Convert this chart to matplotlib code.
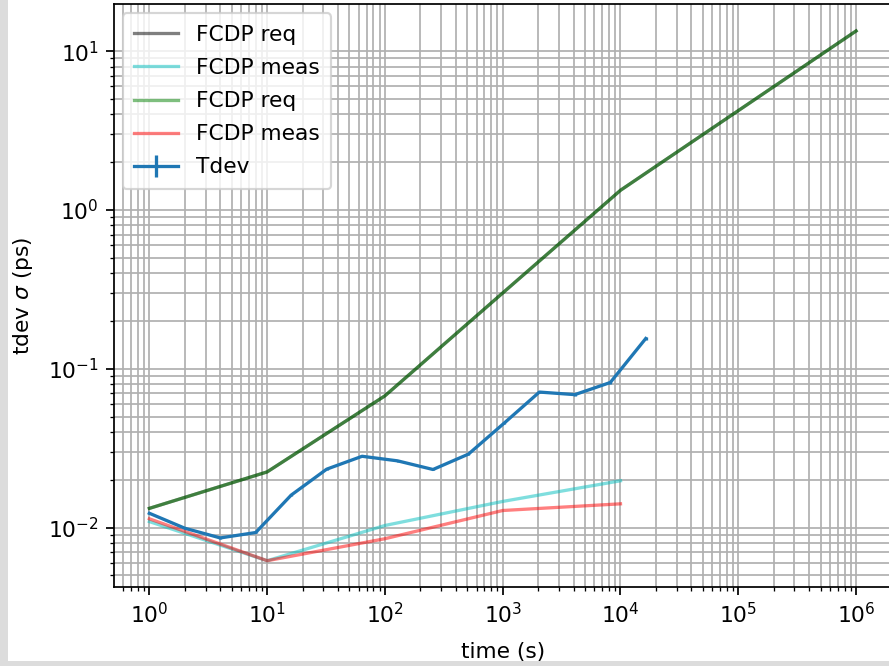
import matplotlib
matplotlib.use("Agg")
import matplotlib.pyplot as plt
from matplotlib.patches import Rectangle

# Requirement mask (ps) against observation time (s)
req_t = [1, 10, 100, 1000, 10000, 1000000]
req_tdev = [0.0132, 0.0224, 0.0675, 0.30, 1.33, 13.4]

# Measured FCDP curves
meas_t = [1, 10, 100, 1000, 10000]
meas_a = [0.0109, 0.00618, 0.0103, 0.0146, 0.0197]
meas_b = [0.01135, 0.00618, 0.0085, 0.0128, 0.0141]

# Computed TDEV at octave-spaced observation intervals
tdev_t = [1, 2, 4, 8, 16, 32, 64, 128, 256, 512, 1024, 2048, 4096, 8192, 16384]
tdev_val = [0.0123, 0.0099, 0.0086, 0.0093, 0.0160, 0.0233, 0.0281, 0.0263,
            0.0232, 0.0290, 0.0453, 0.0713, 0.0687, 0.0819, 0.155]
tdev_err = [0.0001, 0.0001, 0.0001, 0.0001, 0.0002, 0.0002, 0.0003, 0.0003,
            0.0003, 0.0004, 0.0006, 0.0010, 0.0012, 0.0018, 0.0030]

DPI = 157
fig = plt.figure(figsize=(889 / DPI, 666 / DPI), dpi=DPI)
fig.patch.set_facecolor("#dcdcdc")
fig.patches.append(Rectangle((8 / 889, 5.5 / 666), 1, 1, transform=fig.transFigure,
                             facecolor="white", edgecolor="none", zorder=-1))

W, H = 889, 666
left, right, top, bottom = 114, 891.4, 4.5, 587.2
ax = fig.add_axes([left / W, (H - bottom) / H, (right - left) / W, (bottom - top) / H])

ax.loglog(req_t, req_tdev, color="k", alpha=0.5, label="FCDP req")
ax.loglog(meas_t, meas_a, color="c", alpha=0.5, label="FCDP meas")
ax.loglog(req_t, req_tdev, color="g", alpha=0.5, label="FCDP req")
ax.loglog(meas_t, meas_b, color="r", alpha=0.5, label="FCDP meas")
ax.errorbar(tdev_t, tdev_val, yerr=tdev_err, label="Tdev")

ax.grid(True, which="both")
ax.set_xlabel("time (s)", labelpad=6.5)
ax.set_ylabel(r"tdev $\sigma$ (ps)", labelpad=6)
ax.legend(loc="upper left", labelspacing=0.6, borderpad=0.54, borderaxespad=0.4)

fig.savefig("out.png", dpi=DPI)
